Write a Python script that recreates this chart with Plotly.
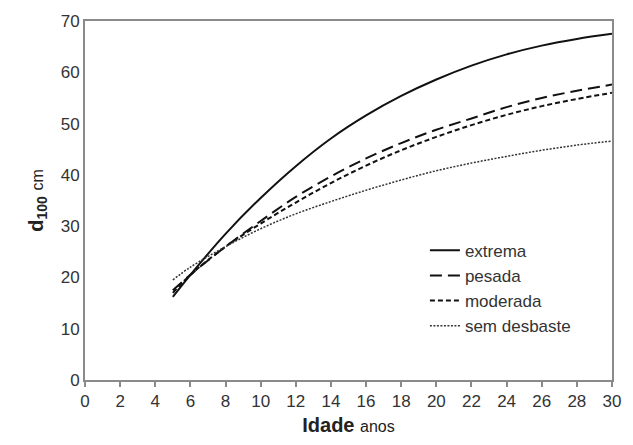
import plotly.graph_objects as go

idade = [5, 6, 8, 10, 12, 14, 16, 18, 20, 22, 24, 26, 28, 30]
extrema = [16.2, 20.5, 28.5, 35.5, 41.7, 47.1, 51.6, 55.4, 58.6, 61.3, 63.5, 65.2, 66.5, 67.5]
pesada = [17.5, 20.5, 26.0, 31.0, 35.7, 39.7, 43.2, 46.2, 48.8, 51.0, 53.2, 55.0, 56.4, 57.6]
moderada = [17.0, 20.5, 26.0, 30.5, 34.6, 38.4, 41.8, 44.8, 47.4, 49.7, 51.7, 53.4, 54.8, 56.0]
sem_desbaste = [19.5, 22.0, 26.0, 29.5, 32.4, 34.8, 37.0, 39.0, 40.8, 42.3, 43.6, 44.8, 45.8, 46.6]

x_ticks = list(range(0, 31, 2))
y_ticks = list(range(0, 71, 10))

series = [
    ("extrema", extrema, dict(color="#111111", width=2, dash="solid")),
    ("pesada", pesada, dict(color="#111111", width=2, dash="12px,6px")),
    ("moderada", moderada, dict(color="#111111", width=2, dash="5px,3px")),
    ("sem desbaste", sem_desbaste, dict(color="#333333", width=1.5, dash="2px,1.5px")),
]

fig = go.Figure()
for name, vals, ln in series:
    fig.add_trace(go.Scatter(x=idade, y=vals, mode="lines", name=name,
                             line=dict(shape="spline", **ln)))

axis_common = dict(showline=True, linecolor="#8a8a8a", linewidth=2, mirror=True,
                   showgrid=False, zeroline=False,
                   tickfont=dict(family="Liberation Sans, Arial", size=17, color="#333333"))

fig.update_layout(
    width=633, height=445,
    margin=dict(l=85, r=14, t=20, b=65),
    paper_bgcolor="white", plot_bgcolor="white",
    font=dict(family="Liberation Sans, Arial", color="#222222"),
    showlegend=True,
    legend=dict(x=0.645, y=0.41, xanchor="left", yanchor="top",
                bgcolor="rgba(0,0,0,0)", font=dict(size=17, color="#333333"),
                itemwidth=30, tracegroupgap=0),
    xaxis=dict(range=[0, 30], tickvals=x_ticks, ticks="outside", ticklen=5,
               tickcolor="#8a8a8a", tickwidth=2,
               title=dict(text="<b>Idade</b> <span style='font-size:16px'>anos</span>",
                          font=dict(size=20, color="#222222"), standoff=8),
               **axis_common),
    yaxis=dict(range=[0, 70], tickvals=y_ticks, ticks="",
               title=dict(text="<b>d<sub>100</sub></b> <span style='font-size:16px'>cm</span>",
                          font=dict(size=20, color="#222222"), standoff=12),
               **axis_common),
)

fig.write_html("out.html")
